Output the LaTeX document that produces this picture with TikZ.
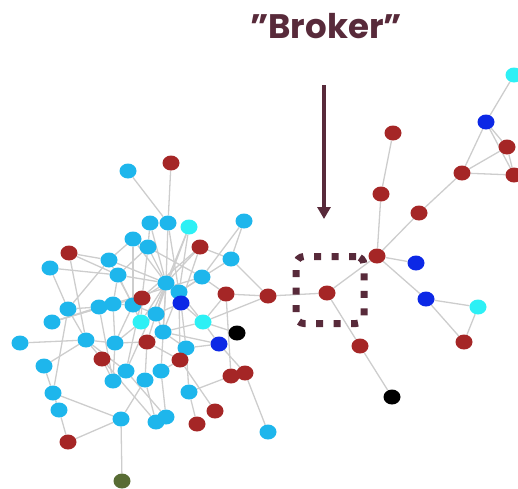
\documentclass[tikz,border=0pt]{standalone}
\usepackage{fontspec}
\usepackage{tikz}
\usetikzlibrary{shapes,arrows.meta,positioning,backgrounds}
\newfontfamily\brokerfont{Poppins}
\definecolor{sky}{RGB}{30,182,236}
\definecolor{brick}{RGB}{165,38,38}
\definecolor{aqua}{RGB}{45,240,245}
\definecolor{royal}{RGB}{12,40,230}
\definecolor{moss}{RGB}{88,108,52}
\definecolor{plum}{RGB}{88,42,58}
\definecolor{linkgray}{RGB}{205,205,205}

\begin{document}
\begin{tikzpicture}[x=1pt, y=-1pt,
    dot/.style={ellipse, minimum width=17pt, minimum height=15pt,
                inner sep=0pt},
    sky_dot/.style={dot, fill=sky},
    red_dot/.style={dot, fill=brick},
    aqua_dot/.style={dot, fill=aqua},
    blue_dot/.style={dot, fill=royal},
    black_dot/.style={dot, fill=black},
    moss_dot/.style={dot, fill=moss},
    link/.style={draw=linkgray, line width=1.3pt},
    pointer/.style={-{Triangle[width=13pt,length=12pt]}, line width=4pt, plum},
    brokerbox/.style={draw=plum, line width=7pt, rounded corners=8pt,
                      dash pattern=on 7pt off 10.5pt,
                      minimum width=68pt, minimum height=67pt},
]
\useasboundingbox (0,0) rectangle (518,488);

% Left cluster
\foreach \n/\x/\y in {
    s1/128/171, s2/150/223, s3/168/223, s4/244/221, s5/133/239,
    s6/148/247, s7/50/268, s8/109/260, s9/231/259, s10/118/275,
    s11/166/283, s12/179/292, s13/202/277, s14/68/309, s15/99/307,
    s16/113/304, s17/133/305, s18/156/314, s19/52/322, s20/163/332,
    s21/20/343, s22/86/340, s23/115/343, s24/186/348, s25/44/366,
    s26/126/371, s27/113/381, s28/145/380, s29/161/371, s30/53/393,
    s31/189/392, s32/59/410, s33/121/419, s34/156/422, s35/166/417,
    s36/268/432}
{
    \node[sky_dot] (\n) at (\x,\y) {};
}
\foreach \n/\x/\y in {
    r1/171/163, r2/200/247, r3/69/253, r4/142/298, r5/226/294,
    r6/268/296, r7/147/342, r8/102/359, r9/180/360, r10/231/376,
    r11/245/373, r12/215/411, r13/197/424, r14/68/442}
{
    \node[red_dot] (\n) at (\x,\y) {};
}
\node[aqua_dot] (q1) at (189,227) {};
\node[aqua_dot] (q2) at (141,322) {};
\node[aqua_dot] (q3) at (203,322) {};
\node[blue_dot] (d1) at (181,303) {};
\node[blue_dot] (d2) at (219,344) {};
\node[black_dot] (k1) at (237,333) {};
\node[moss_dot] (g1) at (122,481) {};

% Broker and right side
\node[red_dot] (broker) at (327,293) {};
\foreach \n/\x/\y in {
    hub/377/256, r16/360/346, r17/381/194, r18/393/133, r19/419/213,
    r20/462/173, r21/507/147, r22/514/175, r23/464/342}
{
    \node[red_dot] (\n) at (\x,\y) {};
}
\node[black_dot] (k2) at (392,397) {};
\node[blue_dot] (d3) at (486,122) {};
\node[blue_dot] (d4) at (416,263) {};
\node[blue_dot] (d5) at (426,299) {};
\node[aqua_dot] (q4) at (514,75) {};
\node[aqua_dot] (q5) at (478,307) {};

% Edges
\begin{scope}[on background layer]
\foreach \a/\b in {
    s1/s3, r1/s3, s3/s11, s2/s11, s2/s6, q1/s11, q1/s12, r2/s11,
    r2/s9, r2/s17, s4/s9, s4/s13, s9/r6, r5/r6, q3/r6, s13/s12,
    s13/r5, s5/s8, s5/s11, s6/s11, s6/s10, s8/r3, s8/s14, s8/s11,
    r3/s10, r3/s22, s7/s10, s7/s14, s10/s11, s10/s16, s11/r4, s11/d1,
    s11/s18, s11/q2, s11/s20, s11/r7, s11/s26, s11/s29, s12/d1,
    s12/s20, s12/r9, s12/q3, d1/q3, d1/s24, d1/s18, r4/s15, r4/s17,
    r4/q2, s14/s15, s14/s30, s14/s22, s15/s16, s16/s17, s17/s18,
    s17/s23, s18/q2, s18/s20, s19/s15, s19/s16, s21/s22, s22/s23,
    s22/r8, s23/r7, s23/q2, r7/s20, r7/s28, r7/r9, s20/s24, s20/d2,
    q3/k1, q3/d2, q3/s20, q3/r5, d2/s24, r5/r10, s24/s31, r9/r12,
    r9/s29, s31/r13, s31/r10, r11/s36, r11/r10, d2/r11, s25/s30,
    s25/s22, s30/s32, s30/s33, s32/r14, r14/s33, s33/g1, s33/s28,
    r8/s27, r8/s34, s26/s35, s27/s23, s28/s34, s29/s35, s26/r4,
    s19/s13, s5/s13, s9/s12, s8/s17, s5/s17, s6/r4, s3/s12,
    q1/s18, s16/s23, s15/s27, s22/s26, r2/d1, s10/q2}
{
    \draw[link] (\a) -- (\b);
}
\foreach \a/\b in {
    r6/broker, broker/hub, broker/r16, r16/k2, hub/r17, r17/r18,
    hub/r19, r19/r20, r20/d3, r20/r21, r20/r22, d3/q4, d3/r21,
    d3/r22, r21/r22, hub/d4, hub/d5, d5/q5, d5/r23, q5/r23}
{
    \draw[link] (\a) -- (\b);
}
\end{scope}

% Highlight
\node[brokerbox] (box) at (330,290) {};
\node[font=\brokerfont\bfseries\fontsize{34}{37}\selectfont, text=plum,
      anchor=base] (title) at (326,38) {”Broker”};
\coordinate (tail) at (324,85);
\coordinate (tip) at (324,219);
\draw[pointer] (tail) -- (tip);

\end{tikzpicture}
\end{document}
